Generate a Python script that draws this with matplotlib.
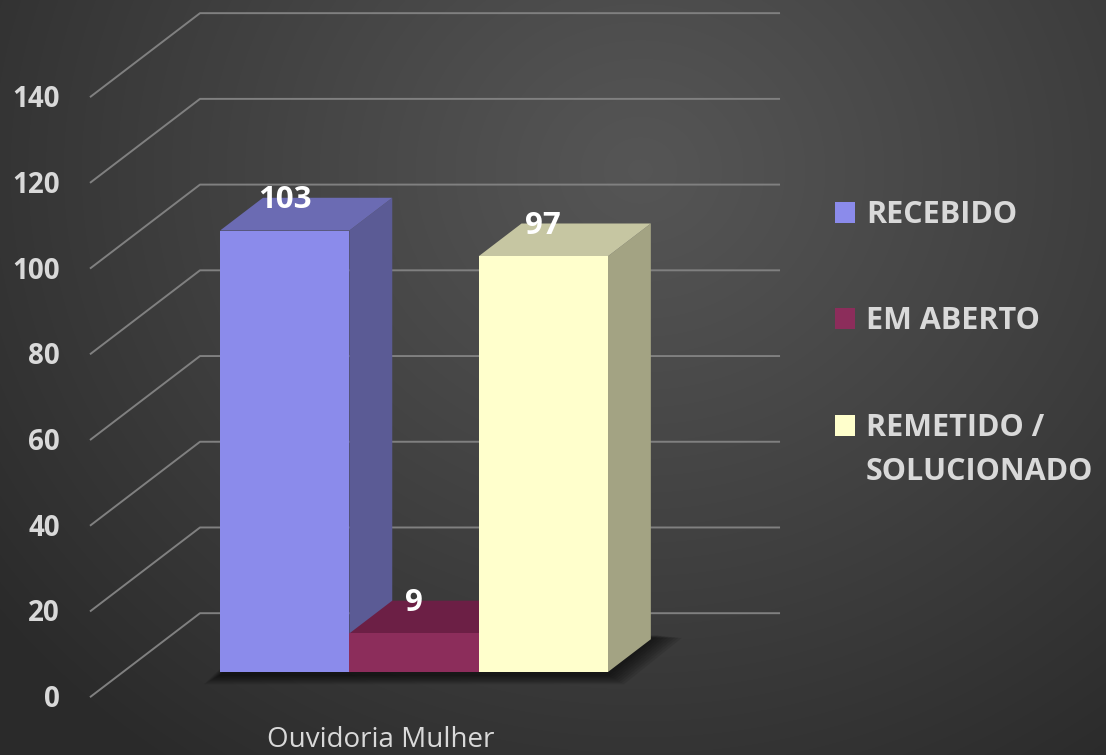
import matplotlib
matplotlib.use('Agg')
import matplotlib.pyplot as plt
import numpy as np
from matplotlib.patches import Polygon

CATEGORY = 'Ouvidoria Mulher'
SERIES   = ['RECEBIDO', 'EM ABERTO', 'REMETIDO /\nSOLUCIONADO']
VALUES   = [103, 9, 97]
Y_TICKS  = [0, 20, 40, 60, 80, 100, 120, 140]

FRONT = ['#8b8beb', '#8c2d5b', '#ffffcc']
TOP   = ['#6b6bb3', '#6c1f45', '#c6c6a2']
SIDE  = ['#5b5b95', '#5e1a3c', '#a3a383']

FONT = 'Open Sans'
TXT  = '#d9d9d9'
GRID = '#808080'

# fake 3d: depth z moves a point right by DX (x units) and up by DY (value units)
DX, DY     = 0.851, 19.6
Z_AXIS     = -0.30   # front edge of the side wall
Z_WALL     = 0.70    # back wall
Z_BAR      = 0.39    # depth of the bars
WALL_LEFT  = -0.655  # x of the back wall's left edge
WALL_RIGHT = 3.831


def proj(x, v, z):
    return x + z * DX, v + z * DY


fig = plt.figure(figsize=(11.06, 7.55), dpi=100)

# ── background: soft radial gradient ──────────────────────────────────────
bg = fig.add_axes([0, 0, 1, 1])
yy, xx = np.mgrid[0:755, 0:1106]
r = np.hypot((xx - 640) / 1.0, (yy - 170) / 0.9)
t = np.clip(r / 820, 0, 1) ** 1.1
shade = 0.335 - t * (0.335 - 0.165)
bg.imshow(np.dstack([shade] * 3), extent=[0, 1106, 755, 0], aspect='auto')
bg.axis('off')

# ── main axes (x = bar index, y = value) ──────────────────────────────────
ax = fig.add_axes([0, 0, 1, 1])
ax.patch.set_alpha(0)
ax.set_xlim(-2.2019, 6.352)
ax.set_ylim(-19.366, 156.79)
ax.axis('off')

# gridlines: diagonal on the side wall, horizontal on the back wall
x_front = WALL_LEFT - (Z_WALL - Z_AXIS) * DX
for v in Y_TICKS:
    _, yf = proj(0, v, Z_AXIS)
    _, yb = proj(0, v, Z_WALL)
    ax.plot([x_front, WALL_LEFT, WALL_RIGHT], [yf, yb, yb],
            color=GRID, lw=1.4, zorder=1, solid_capstyle='butt')
    ax.text(-1.738, yf - 2.33, str(v), ha='right', va='baseline', fontsize=20,
            fontweight='bold', color=TXT, family=FONT, zorder=2)

# soft shadow under the bars
n = len(VALUES)
for k in range(8):
    ex = 0.012 + k * 0.016
    ey = 0.3 + k * 0.28
    pts = [proj(-0.5 - ex, -ey - 0.6, 0),
           proj(n - 0.5 + ex, -ey - 0.6, 0),
           proj(n - 0.5 + ex * 1.6, -ey * 0.3, Z_BAR + 0.05),
           proj(-0.5 - ex, -ey * 0.3, Z_BAR + 0.05)]
    ax.add_patch(Polygon(pts, closed=True, facecolor='black', edgecolor='none',
                         alpha=0.09, zorder=2))

# bars, left to right so the next front face hides the previous side
for i, h in enumerate(VALUES):
    zo = 3 + i
    top = [proj(i - 0.5, h, 0), proj(i + 0.5, h, 0),
           proj(i + 0.5, h, Z_BAR), proj(i - 0.5, h, Z_BAR)]
    side = [proj(i + 0.5, 0, 0), proj(i + 0.5, h, 0),
            proj(i + 0.5, h, Z_BAR), proj(i + 0.5, 0, Z_BAR)]
    ax.add_patch(Polygon(side, closed=True, facecolor=SIDE[i], edgecolor='none', zorder=zo))
    ax.add_patch(Polygon(top, closed=True, facecolor=TOP[i], edgecolor='none', zorder=zo))
    ax.bar(i, h, width=1.0, color=FRONT[i], edgecolor='none', zorder=zo + 0.5)
    ax.text(i, h + 5.3, str(h), ha='center', va='baseline', fontsize=22.5,
            fontweight='bold', color='white', family=FONT, zorder=10)

# category label, centred on the front plane of the axis
cx, _ = proj((n - 1) / 2, 0, Z_AXIS)
ax.text(cx, -17.6, CATEGORY, ha='center', va='baseline', fontsize=20,
        color=TXT, family=FONT, zorder=10)

# ── legend (pixel coordinates overlay) ────────────────────────────────────
ov = fig.add_axes([0, 0, 1, 1])
ov.patch.set_alpha(0)
ov.set_xlim(0, 1106)
ov.set_ylim(755, 0)
ov.axis('off')
legend_base = [223, 329, 436.5]
for lbl, col, yb in zip(SERIES, FRONT, legend_base):
    ov.add_patch(plt.Rectangle((835, yb - 21.5), 20, 21, facecolor=col, edgecolor='none'))
    for k, line in enumerate(lbl.split('\n')):
        ov.text(866, yb + k * 43.5, line, ha='left', va='baseline', fontsize=22,
                fontweight='bold', color=TXT, family=FONT)

fig.savefig('out.png', dpi=100)
